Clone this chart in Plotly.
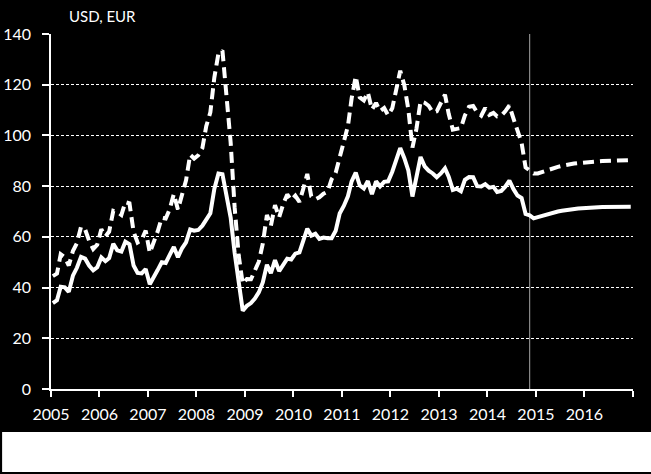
import pandas as pd
import plotly.graph_objects as go

# monthly, Jan 2005 - Dec 2016 (from Dec 2014 on: futures-based outlook)
months = pd.date_range("2005-01-01", periods=144, freq="MS") + pd.Timedelta(days=14)

usd = [
    44.5, 45.5, 53.1, 51.9, 48.7, 54.4, 57.5, 64.0, 62.9, 58.5, 55.2, 56.9,
    63.0, 60.2, 62.1, 70.3, 69.8, 68.6, 73.7, 73.2, 62.0, 57.8, 58.8, 62.5,
    53.7, 57.6, 62.1, 67.5, 67.2, 71.1, 76.9, 70.8, 77.2, 82.3, 92.4, 90.9,
    92.2, 95.0, 103.6, 109.1, 122.8, 132.3, 133.5, 113.2, 97.2, 71.6, 52.5, 41.5,
    43.4, 43.3, 46.5, 50.2, 57.3, 68.6, 64.4, 72.5, 67.7, 72.8, 76.7, 74.5,
    76.2, 73.8, 78.8, 84.8, 76.0, 74.8, 75.6, 77.0, 77.8, 82.7, 85.3, 91.5,
    96.5, 103.7, 114.6, 123.3, 115.0, 113.8, 117.0, 110.2, 112.8, 109.6, 110.8, 107.9,
    110.7, 119.3, 125.5, 119.8, 110.3, 95.2, 102.6, 113.4, 112.9, 111.7, 109.1, 109.5,
    113.0, 116.1, 108.5, 102.3, 102.6, 102.9, 107.9, 111.3, 111.6, 109.1, 107.8, 110.8,
    108.1, 108.9, 107.5, 107.8, 109.5, 111.8, 106.8, 101.6, 97.1, 87.4, 86.0, 85.0,
    85.0, 85.6, 86.2, 86.7, 87.2, 87.6, 88.0, 88.4, 88.7, 88.9, 89.1, 89.3,
    89.5, 89.6, 89.7, 89.8, 89.9, 90.0, 90.1, 90.1, 90.2, 90.2, 90.3, 90.3,
]

eur = [
    33.9, 35.0, 40.3, 40.1, 38.3, 44.7, 47.8, 52.1, 51.4, 48.7, 46.8, 48.0,
    51.9, 50.4, 51.6, 57.3, 54.7, 54.2, 58.1, 57.1, 48.7, 45.8, 45.6, 47.3,
    41.3, 44.0, 46.9, 50.0, 49.7, 53.0, 56.0, 52.0, 55.5, 57.8, 62.9, 62.4,
    62.7, 64.4, 66.7, 69.3, 78.9, 85.0, 84.7, 75.6, 67.6, 53.7, 41.2, 30.9,
    32.8, 33.9, 35.6, 38.1, 42.0, 49.0, 45.7, 50.8, 46.5, 49.1, 51.4, 51.1,
    53.4, 53.9, 58.1, 63.2, 60.5, 61.2, 59.2, 59.7, 59.5, 59.5, 62.4, 69.2,
    72.2, 76.0, 81.9, 85.3, 80.3, 79.1, 82.0, 76.8, 81.9, 79.9, 81.7, 81.9,
    85.7, 90.3, 95.0, 91.0, 86.2, 75.9, 83.5, 91.5, 87.8, 86.1, 85.0, 83.5,
    85.0, 87.0, 83.7, 78.5, 79.0, 78.0, 82.5, 83.6, 83.5, 80.0, 79.9, 80.8,
    79.4, 79.7, 77.7, 78.1, 79.8, 82.2, 78.9, 76.3, 75.3, 69.0, 68.5, 67.3,
    67.8, 68.3, 68.8, 69.2, 69.6, 70.0, 70.3, 70.6, 70.8, 71.0, 71.2, 71.3,
    71.5, 71.6, 71.7, 71.7, 71.8, 71.8, 71.9, 71.9, 71.9, 71.9, 71.9, 71.9,
]

years = list(range(2005, 2018))
year_ticks = [f"{y}-01-01" for y in years]
year_labels = [str(y) for y in years[:-1]] + [""]
cutoff = "2014-11-15"

fig = go.Figure()
fig.add_trace(go.Scatter(x=months, y=usd, mode="lines", name="USD",
                         line=dict(color="white", width=4, dash="11px,6px")))
fig.add_trace(go.Scatter(x=months, y=eur, mode="lines", name="EUR",
                         line=dict(color="white", width=4)))

fig.add_shape(type="line", xref="x", yref="y", x0=cutoff, x1=cutoff, y0=0, y1=140,
              line=dict(color="#a6a6a6", width=1), layer="below")
# white strip under the chart
fig.add_shape(type="rect", xref="paper", yref="paper",
              x0=-0.084, x1=1.04, y0=-0.121, y1=-0.2338,
              fillcolor="white", line=dict(width=0), layer="above")

fig.add_annotation(text="USD, EUR", xref="paper", yref="paper", x=0.0275, y=1.0507,
                   xanchor="left", yanchor="middle", showarrow=False,
                   font=dict(size=15, color="white"))

fig.update_layout(
    width=651, height=474,
    margin=dict(l=51, r=18, t=34, b=85),
    paper_bgcolor="black", plot_bgcolor="black",
    font=dict(family="Lato", size=16, color="white"),
    showlegend=False, hovermode=False,
)
fig.update_xaxes(type="date", range=["2005-01-01", "2017-01-01"],
                 tickvals=year_ticks, ticktext=year_labels,
                 showgrid=False, zeroline=False, automargin=False,
                 showline=True, linecolor="white", linewidth=1.5,
                 ticks="outside", ticklen=6, tickcolor="white", tickwidth=1.5,
                 ticklabelstandoff=4)
fig.update_yaxes(range=[0, 140], dtick=20, automargin=False,
                 showgrid=True, gridcolor="white", gridwidth=1, griddash="3px,2px",
                 zeroline=False,
                 showline=True, linecolor="white", linewidth=1.5,
                 ticks="outside", ticklen=7, tickcolor="white", tickwidth=1.5,
                 ticklabelstandoff=8)

fig.write_html("out.html", config={"displayModeBar": False},
               post_script="document.body.style.margin='0';")
